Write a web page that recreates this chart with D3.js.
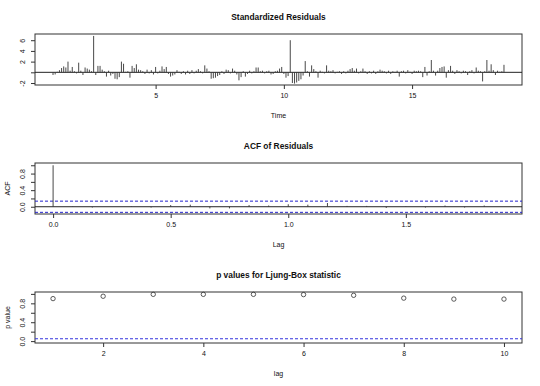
<!DOCTYPE html>
<html>
<head>
<meta charset="utf-8">
<script src="https://cdn.jsdelivr.net/npm/d3@7"></script>
<style>
  body { margin: 0; background: #fff; }
  svg text { font-family: "Liberation Sans", Arial, sans-serif; fill: #111; }
</style>
</head>
<body>
<div id="chart"></div>
<script>
"use strict";

// series: standardized residuals, monthly series starting at time 1
const startTime = 1;
const frequency = 12;
const residuals = [
  -0.5, -0.4, 0.1, 0.4, 0.8, 1.1, 0.9, 2.0, 0.3, 1.0, 0.2, -0.2,
  1.8, 0.3, -0.5, 0.9, 0.7, 0.5, 0.2, 6.8, -0.5, 1.2, 1.2, 0.5,
  0.2, -0.8, 0.3, -0.6, -0.3, -1.2, -1.3, -0.9, 2.0, 1.6, 0.1, 0.2,
  -1.0, 1.2, 0.8, 1.5, 0.5, 0.4, 0.2, -0.3, 0.5, -0.2, 0.4, -0.4,
  1.0, -0.2, 0.3, 1.1, 0.6, 1.0, -0.3, -0.8, -0.6, -0.4, 0.4, 0.1,
  -0.3, 0.2, -0.4, 0.3, -0.3, 0.4, -0.2, 0.3, 0.6, 0.2, -0.2, 1.3,
  0.7, 0.2, -1.2, -1.1, -1.0, -0.7, -0.5, 0.2, -0.3, 0.5, 0.4, -0.2,
  0.7, 0.3, -0.4, -1.5, -0.9, 0.2, -0.8, -0.3, 0.3, -0.2, 0.2, 0.9,
  0.9, 0.2, 0.3, -0.2, 0.2, 0.3, -0.4, -0.3, 0.2, 0.3, 0.7, 1.0,
  -0.3, -1.0, -0.7, 6.0, -2.0, -2.1, -1.9, -1.6, -1.3, -0.6, 2.1, 0.2,
  -0.8, 1.3, 0.6, 0.2, -1.0, 0.3, 0.1, -0.2, 1.3, 0.3, 0.2, 0.4,
  -0.2, 0.1, 0.2, -0.3, 0.2, -0.2, 0.3, 0.6, 0.8, 0.3, 0.7, -0.2,
  0.2, 0.7, 0.2, -0.3, 0.2, -0.2, 0.3, -0.3, 0.2, 0.5, 0.3, 0.2,
  -0.2, 0.3, -0.3, 0.2, 0.1, 0.3, -0.8, 0.2, 0.3, -0.2, 0.4, 0.1,
  -0.3, 0.3, 0.2, 0.3, 0.2, -0.9, 1.0, -0.6, 0.2, 2.3, 0.3, -0.6,
  0.3, 0.8, 1.0, 1.1, -1.0, 0.4, 1.2, 0.3, -0.3, 0.4, 0.2, -0.2,
  0.3, 0.2, -0.5, 0.2, 0.4, -0.2, 0.9, 0.3, 0.2, -1.7, 0.2, 2.3,
  0.3, 1.5, 0.4, -0.5, 0.3, 0.1, 0.2, 1.4
];
const timeTicks = [5, 10, 15];
const residTicks = [-2, 0, 2, 4, 6];

// acf of residuals, lags 0..23 (in units of lag/frequency)
const acfValues = [
  1.0, 0.01, -0.02, 0.0, 0.01, -0.02, 0.04, 0.05, -0.04, -0.04, 0.04, 0.03,
  0.06, 0.05, 0.09, 0.02, 0.02, -0.03, 0.01, -0.02, 0.03, -0.02, 0.03, 0.0
];
const acfBound = 0.135;
const acfXTicks = [0, 0.5, 1.0, 1.5];
const acfYTicks = [0, 0.2, 0.4, 0.6, 0.8, 1.0];

// Ljung-Box p values
const lbLags = [1, 2, 3, 4, 5, 6, 7, 8, 9, 10];
const lbPValues = [0.90, 0.95, 0.99, 0.99, 0.99, 0.985, 0.97, 0.91, 0.89, 0.89];
const lbXTicks = [2, 4, 6, 8, 10];
const lbYTicks = [0, 0.2, 0.4, 0.6, 0.8, 1.0];
const lbLevel = 0.05;

const width = 540, height = 386;
const left = 35, right = 522;
const midX = (left + right) / 2;

const svg = d3.select("#chart").append("svg")
    .attr("width", width)
    .attr("height", height);
svg.append("rect").attr("width", width).attr("height", height).attr("fill", "#fff");

// draws the frame, axes and labels of one panel, returns its scales
function panel(opts) {
    const x = d3.scaleLinear().domain(opts.xDomain).range([left, right]);
    const y = d3.scaleLinear().domain(opts.yDomain).range([opts.bottom, opts.top]);
    const g = svg.append("g");

    // x axis
    const xa = g.append("g")
        .attr("transform", `translate(0,${opts.bottom})`)
        .call(d3.axisBottom(x).tickValues(opts.xTicks).tickSize(4).tickPadding(4)
            .tickFormat(opts.xFormat));
    xa.select(".domain").remove();
    xa.selectAll("line").attr("stroke", "#333");
    xa.selectAll("text").attr("font-size", 7).attr("fill", "#222");

    // y axis, labels turned to run along the axis
    const ya = g.append("g")
        .attr("transform", `translate(${left},0)`)
        .call(d3.axisLeft(y).tickValues(opts.yTicks).tickSize(4).tickFormat(opts.yFormat));
    ya.select(".domain").remove();
    ya.selectAll("line").attr("stroke", "#333");
    ya.selectAll("text")
        .attr("font-size", 7).attr("fill", "#222")
        .attr("x", null).attr("dy", null)
        .attr("text-anchor", "middle")
        .attr("transform", "translate(-10,0) rotate(-90)");

    // box
    g.append("rect")
        .attr("x", left).attr("y", opts.top)
        .attr("width", right - left).attr("height", opts.bottom - opts.top)
        .attr("fill", "none").attr("stroke", "#333").attr("stroke-width", 1);

    // titles
    g.append("text").attr("x", midX).attr("y", opts.top - 14)
        .attr("text-anchor", "middle").attr("font-size", 8.4).attr("font-weight", "bold")
        .text(opts.title);
    g.append("text").attr("x", midX).attr("y", opts.bottom + 33)
        .attr("text-anchor", "middle").attr("font-size", 7).attr("fill", "#222")
        .text(opts.xLabel);
    if (opts.yLabel) {
        g.append("text")
            .attr("transform", `translate(10,${(opts.top + opts.bottom) / 2}) rotate(-90)`)
            .attr("text-anchor", "middle").attr("font-size", 7).attr("fill", "#222")
            .text(opts.yLabel);
    }
    return { x, y, g };
}

const fmt1 = d3.format(".1f");

// --- Standardized Residuals ---
const p1 = panel({
    top: 34, bottom: 85,
    xDomain: [0.297, 19.286], yDomain: [-2.37, 7.16],
    xTicks: timeTicks, yTicks: residTicks,
    xFormat: d3.format("d"), yFormat: d => d === 0 ? "" : String(d),
    title: "Standardized Residuals", xLabel: "Time"
});
p1.g.append("line")
    .attr("x1", left).attr("x2", right)
    .attr("y1", p1.y(0)).attr("y2", p1.y(0))
    .attr("stroke", "#222");
p1.g.selectAll(".res").data(residuals).enter().append("line")
    .attr("x1", (d, i) => p1.x(startTime + i / frequency))
    .attr("x2", (d, i) => p1.x(startTime + i / frequency))
    .attr("y1", p1.y(0)).attr("y2", d => p1.y(d))
    .attr("stroke", "#333").attr("stroke-width", 0.9);

// --- ACF of Residuals ---
const p2 = panel({
    top: 163, bottom: 214,
    xDomain: [-0.077, 1.994], yDomain: [-0.175, 1.055],
    xTicks: acfXTicks, yTicks: acfYTicks,
    xFormat: fmt1, yFormat: d => (Math.round(d * 10) % 4 === 0 ? fmt1(d) : ""),
    title: "ACF of Residuals", xLabel: "Lag", yLabel: "ACF"
});
p2.g.append("line")
    .attr("x1", left).attr("x2", right)
    .attr("y1", p2.y(0)).attr("y2", p2.y(0))
    .attr("stroke", "#222");
[acfBound, -acfBound].forEach(b => {
    p2.g.append("line")
        .attr("x1", left).attr("x2", right)
        .attr("y1", p2.y(b)).attr("y2", p2.y(b))
        .attr("stroke", "#2222cc").attr("stroke-dasharray", "3,2");
});
p2.g.selectAll(".acf").data(acfValues).enter().append("line")
    .attr("x1", (d, i) => p2.x(i / frequency))
    .attr("x2", (d, i) => p2.x(i / frequency))
    .attr("y1", p2.y(0)).attr("y2", d => p2.y(d))
    .attr("stroke", "#333").attr("stroke-width", 0.9);

// --- p values for Ljung-Box statistic ---
const p3 = panel({
    top: 292, bottom: 343,
    xDomain: [0.64, 10.36], yDomain: [-0.04, 1.04],
    xTicks: lbXTicks, yTicks: lbYTicks,
    xFormat: d3.format("d"), yFormat: d => (Math.round(d * 10) % 4 === 0 ? fmt1(d) : ""),
    title: "p values for Ljung-Box statistic", xLabel: "lag", yLabel: "p value"
});
p3.g.append("line")
    .attr("x1", left).attr("x2", right)
    .attr("y1", p3.y(lbLevel)).attr("y2", p3.y(lbLevel))
    .attr("stroke", "#3333dd").attr("stroke-dasharray", "3,2");
p3.g.selectAll(".pv").data(lbPValues).enter().append("circle")
    .attr("cx", (d, i) => p3.x(lbLags[i]))
    .attr("cy", d => p3.y(d))
    .attr("r", 2.2)
    .attr("fill", "none").attr("stroke", "#333").attr("stroke-width", 0.8);
</script>
</body>
</html>
